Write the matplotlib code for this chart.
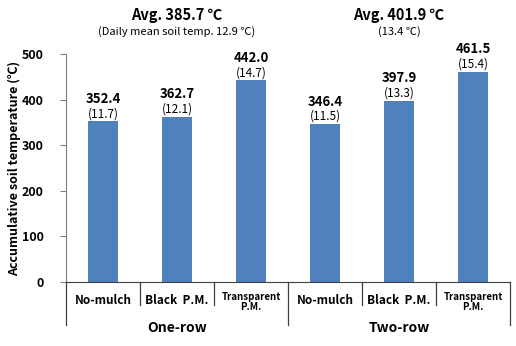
import matplotlib
matplotlib.use("Agg")
import matplotlib.pyplot as plt
from matplotlib.transforms import blended_transform_factory

plt.rcParams['font.family'] = ['Noto Sans CJK KR', 'DejaVu Sans']

# data
categories = ["No-mulch", "Black  P.M.", "Transparent\nP.M.", "No-mulch", "Black  P.M.", "Transparent\nP.M."]
groups = ["One-row", "Two-row"]
totals = [352.4, 362.7, 442.0, 346.4, 397.9, 461.5]
daily = [11.7, 12.1, 14.7, 11.5, 13.3, 15.4]
group_avg = ["Avg. 385.7 \u2103", "Avg. 401.9 \u2103"]
group_sub = ["(Daily mean soil temp. 12.9 \u2103)", "(13.4 \u2103)"]
yticks = [0, 100, 200, 300, 400, 500]

bar_color = "#4F81BD"

fig = plt.figure(figsize=(5.16, 3.46), dpi=100)
ax = fig.add_axes([66 / 516, 64 / 346, 444 / 516, 228 / 346])

x = list(range(len(totals)))
ax.bar(x, totals, width=0.4, color=bar_color, zorder=2)

ax.set_xlim(-0.5, len(totals) - 0.5)
ax.set_ylim(0, 500)
ax.set_yticks(yticks)
ax.set_yticklabels([str(t) for t in yticks], fontsize=9, fontweight="bold")
ax.tick_params(axis="y", length=4, width=0.8, color="#808080", pad=12)
ax.set_xticks([])
for s in ["top", "right"]:
    ax.spines[s].set_visible(False)
ax.spines["left"].set_color("#808080")
ax.spines["bottom"].set_color("#404040")

# value labels (offsets in points above the bar top)
for xi, tot, d in zip(x, totals, daily):
    ax.annotate("%.1f" % tot, (xi, tot), xytext=(0, 16), textcoords="offset points",
                ha="center", va="center", fontsize=9.5, fontweight="bold")
    ax.annotate("(%.1f)" % d, (xi, tot), xytext=(0, 5.5), textcoords="offset points",
                ha="center", va="center", fontsize=8.5)

trans = blended_transform_factory(ax.transData, ax.transAxes)
px = 1.0 / 228  # one pixel in axes y units

# category labels
for xi, c in enumerate(categories):
    if "\n" in c:
        ax.text(xi, -20 * px, c, transform=trans, ha="center", va="center", fontsize=7,
                fontweight="bold", linespacing=1.0)
    else:
        ax.text(xi, -19 * px, c, transform=trans, ha="center", va="center", fontsize=8.5,
                fontweight="bold")

# group labels and headings
for gi, g in enumerate(groups):
    cx = gi * 3 + 1
    ax.text(cx, -46 * px, g, transform=trans, ha="center", va="center", fontsize=10, fontweight="bold")
    ax.text(cx, 1 + 39 * px, group_avg[gi], transform=trans, ha="center", va="center",
            fontsize=10.5, fontweight="bold")
    ax.text(cx, 1 + 22 * px, group_sub[gi], transform=trans, ha="center", va="center", fontsize=8)

# divider lines below the axis
for b in range(len(categories) + 1):
    xb = b - 0.5
    if b % 3 == 0:
        ax.plot([xb, xb], [0, -43 * px], transform=trans, color="#404040", lw=0.9, clip_on=False)
    else:
        ax.plot([xb, xb], [0, -23 * px], transform=trans, color="#404040", lw=0.9, clip_on=False)

fig.text(14 / 516, 1 - 168 / 346, "Accumulative soil temperature (\u2103)", rotation=90,
         ha="center", va="center", fontsize=9, fontweight="bold")

fig.savefig("out.png", dpi=100)
